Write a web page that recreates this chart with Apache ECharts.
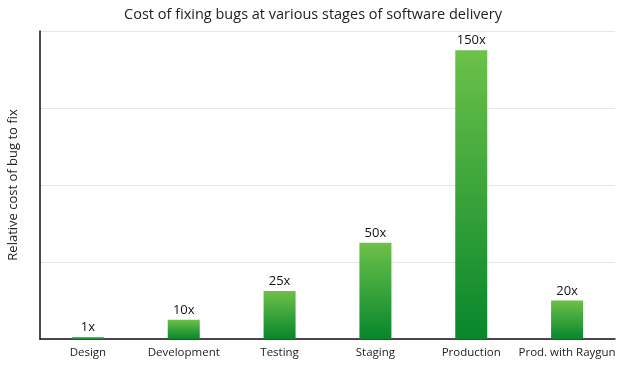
<!DOCTYPE html>
<html><head><meta charset="utf-8">
<script src="https://cdn.jsdelivr.net/npm/echarts@6/dist/echarts.min.js"></script>
<style>html,body{margin:0;padding:0;background:#fff}#c{width:626px;height:369px}</style>
</head><body><div id="c"></div>
<script>
const categories = ["Design", "Development", "Testing", "Staging", "Production", "Prod. with Raygun"];
const costValues = [1, 10, 25, 50, 150, 20];
const valueLabels = ["1x", "10x", "25x", "50x", "150x", "20x"];
const chart = echarts.init(document.getElementById('c'));
const FONT = '"Open Sans", Lato, sans-serif';
chart.setOption({
  animation: false,
  textStyle: { fontFamily: FONT },
  title: { text: 'Cost of fixing bugs at various stages of software delivery', left: 'center', top: 2,
    textStyle: { fontFamily: FONT, fontSize: 14.5, fontWeight: 'normal', color: '#222' } },
  grid: { left: 40, right: 11, top: 31, bottom: 30, containLabel: false, outerBoundsMode: 'none' },
  xAxis: { type: 'category', data: categories,
    axisLine: { lineStyle: { color: '#111', width: 1.5 } },
    axisTick: { show: false },
    axisLabel: { color: '#222', fontSize: 11.5, margin: 8, interval: 0 } },
  yAxis: { type: 'value', min: 0, max: 160, interval: 40,
    name: 'Relative cost of bug to fix', nameLocation: 'middle', nameGap: 20,
    nameTextStyle: { fontFamily: FONT, fontSize: 13, color: '#222' },
    axisLine: { show: true, lineStyle: { color: '#111', width: 1.5 } },
    axisTick: { show: false }, axisLabel: { show: false },
    splitLine: { lineStyle: { color: '#e6e6e6' } } },
  series: [{ type: 'bar', barWidth: 32, data: costValues,
    itemStyle: { color: new echarts.graphic.LinearGradient(0, 0, 0, 1, [
      { offset: 0, color: '#6cc149' }, { offset: 1, color: '#08862c' }]) },
    label: { show: true, position: 'top', distance: 3, fontSize: 13, color: '#111',
      fontFamily: FONT, formatter: p => valueLabels[p.dataIndex] } }]
});
</script></body></html>
